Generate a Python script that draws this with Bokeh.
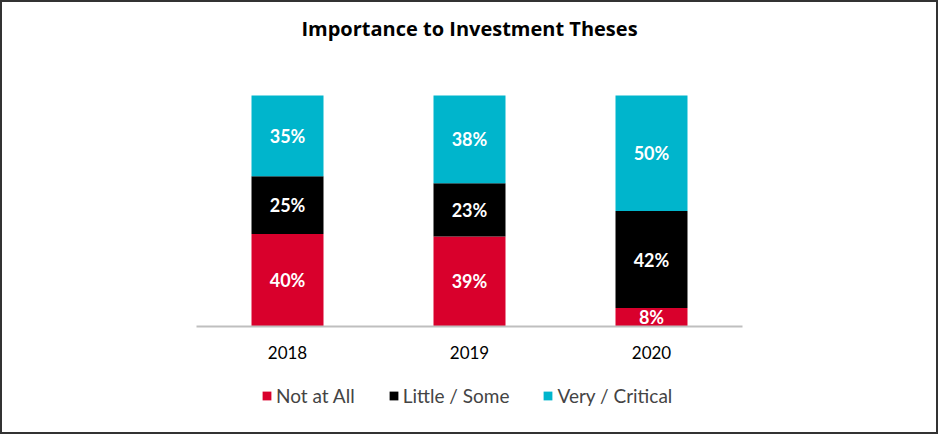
from bokeh.plotting import figure
from bokeh.models import ColumnDataSource, FactorRange, Range1d, LabelSet, Legend, LegendItem, Label
from bokeh.core.properties import value
from bokeh.embed import file_html
from bokeh.resources import INLINE

years = ["2018", "2019", "2020"]
not_at_all = [40, 39, 8]
little_some = [25, 23, 42]
very_critical = [35, 38, 50]
series = ["Not at All", "Little / Some", "Very / Critical"]
colors = ["#D9002C", "#000000", "#00B5CC"]
title_text = "Importance to Investment Theses"

FONT = "Lato"

src = ColumnDataSource(dict(
    years=years,
    not_at_all=not_at_all,
    little_some=little_some,
    very_critical=very_critical,
))

p = figure(
    x_range=FactorRange(factors=years, range_padding=1.066, range_padding_units="absolute"),
    y_range=Range1d(-45.887, 140.26),
    frame_width=934, frame_height=430,
    min_border=0,
    output_backend="svg", toolbar_location=None,
)
p.styles = {"border": "2px solid #333333"}
p.xaxis.visible = False
p.yaxis.visible = False
p.xgrid.grid_line_color = None
p.ygrid.grid_line_color = None
p.outline_line_color = None

renderers = p.vbar_stack(["not_at_all", "little_some", "very_critical"], x="years",
                         width=0.3956, color=colors, source=src, line_width=0)

# baseline spanning the category range
p.segment(x0=[0], x1=[len(years)], y0=[0], y1=[0], line_color="#BFBFBF", line_width=2)

# value labels
labels = {"x": [], "y": [], "t": []}
for i, y in enumerate(years):
    base = 0
    for vals in (not_at_all, little_some, very_critical):
        v = vals[i]
        labels["x"].append(y)
        labels["y"].append(base + v / 2)
        labels["t"].append(f"{v}%")
        base += v
lsrc = ColumnDataSource(labels)
p.add_layout(LabelSet(x="x", y="y", text="t", source=lsrc, text_color="white",
                      text_font=value(FONT), text_font_style="bold", text_font_size="18px",
                      text_align="center", text_baseline="middle"))

# category labels
csrc = ColumnDataSource(dict(x=years, y=[-11.26] * len(years), t=years))
p.add_layout(LabelSet(x="x", y="y", text="t", source=csrc, text_color="#000000",
                      text_font=value(FONT), text_font_size="17px",
                      text_align="center", text_baseline="middle"))

p.add_layout(Label(x=1.5, y=129, text=title_text, text_font="Open Sans",
                   text_font_style="bold", text_font_size="20px", text_color="#000000",
                   text_align="center", text_baseline="middle"))

legend = Legend(items=[LegendItem(label=s, renderers=[r]) for s, r in zip(series, renderers)],
                orientation="horizontal", location=(259, 25),
                label_text_font=FONT, label_text_font_size="19px",
                glyph_width=11, glyph_height=11, label_standoff=4, spacing=33,
                padding=0, margin=0, label_height=20,
                border_line_color=None, background_fill_alpha=0)
p.add_layout(legend, "center")

open("out.html", "w").write(file_html(p, INLINE))
